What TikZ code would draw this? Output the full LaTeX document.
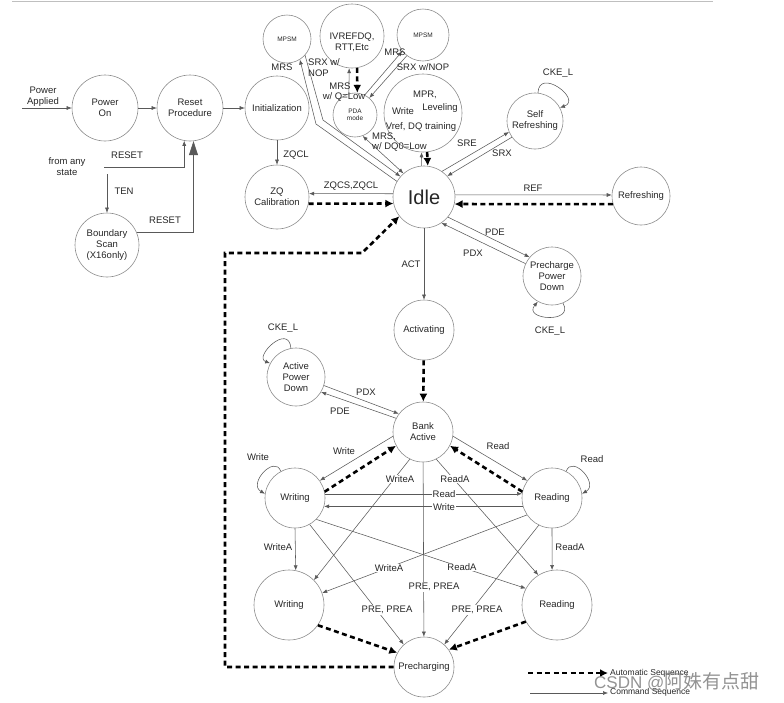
\documentclass[tikz,border=0pt]{standalone}
\usepackage{fontspec}
\setmainfont{Liberation Sans}
\newfontfamily\cjkfont{Noto Sans CJK SC}
\usetikzlibrary{arrows.meta}
\begin{document}
\begin{tikzpicture}[x=1pt,y=-1pt,
  every node/.style={font=\fontsize{9.5}{11}\selectfont, text=black!85, inner sep=0pt},
  stnode/.style={circle, draw=black!45, line width=0.6pt, align=center},
  cmd/.style={draw=black!65, line width=0.55pt, -{Latex[length=5pt,width=4pt]}},
  cmdb/.style={draw=black!65, line width=0.55pt, {Latex[length=5pt,width=4pt]}-{Latex[length=5pt,width=4pt]}},
  autoseq/.style={draw=black, line width=2.6pt, dash pattern=on 5pt off 3.5pt, -{Latex[length=8pt,width=8pt]}},
  lbl/.style={align=center},
  wlbl/.style={fill=white, inner sep=1pt},
  tinytxt/.style={font=\fontsize{6.5}{7.5}\selectfont},
]
\useasboundingbox (0,0) rectangle (784,702);
\draw[black!25, line width=1.2pt] (12,1.5) -- (713,1.5);

% ---------- states ----------
\node[stnode,minimum size=66pt] (pon) at (105,108) {Power\\On};
\node[stnode,minimum size=66pt] (rst) at (190,108) {Reset\\Procedure};
\node[stnode,minimum size=64pt] (init) at (277,108) {Initialization};
\node[stnode,minimum size=64pt] (zq) at (277,197) {ZQ\\Calibration};
\node[stnode,minimum size=64pt] (bs) at (107,245) {Boundary\\Scan\\(X16only)};
\node[stnode,minimum size=48pt,tinytxt] (mp1) at (287,39) {MPSM};
\node[stnode,minimum size=64pt] (ivr) at (352,36) {};
\node[lbl] (ivrt) at (352,42) {IVREFDQ,\\RTT,Etc};
\node[stnode,minimum size=52pt,tinytxt] (mp2) at (423,35) {MPSM};
\node[stnode,minimum size=44pt,tinytxt] (pda) at (355,115) {PDA\\mode};
\node[stnode,minimum size=78pt] (mpr) at (423,113) {};
\node (mprt1) at (425,95) {MPR,};
\node (mprt2) at (403,111) {Write};
\node (mprt3) at (440,108) {Leveling};
\node (mprt4) at (421,127) {Vref, DQ training};
\node[stnode,minimum size=56pt] (sr) at (535,121) {Self\\Refreshing};
\node[stnode,minimum size=62pt,font=\fontsize{20}{22}\selectfont] (idle) at (424,197) {Idle};
\node[stnode,minimum size=58pt] (rf) at (641,196) {Refreshing};
\node[stnode,minimum size=58pt] (ppd) at (552,276) {Precharge\\Power\\Down};
\node[stnode,minimum size=60pt] (act) at (424,330) {Activating};
\node[stnode,minimum size=58pt] (apd) at (296,377) {Active\\Power\\Down};
\node[stnode,minimum size=60pt] (ba) at (423,432) {Bank\\Active};
\node[stnode,minimum size=60pt] (wr1) at (295,498) {Writing};
\node[stnode,minimum size=60pt] (rd1) at (552,498) {Reading};
\node[stnode,minimum size=70pt] (wr2) at (289,605) {Writing};
\node[stnode,minimum size=70pt] (rd2) at (557,605) {Reading};
\node[stnode,minimum size=60pt] (pre) at (424,667) {Precharging};

% ---------- power-up / reset ----------
\coordinate (pa) at (22,108);
\draw[cmd] (pa) -- (pon);
\node[lbl] (pal) at (43,97) {Power\\Applied};
\draw[cmd] (pon) -- (rst);
\draw[cmd] (rst) -- (init);
\draw[cmd] (init) -- (zq);
\node (zqcl) at (296,155) {ZQCL};
\node[lbl] (fas) at (67,167) {from any\\state};
\coordinate (fa) at (104,167);
\draw[cmd] (fa) -| (rst.260);
\node (rs1) at (127,155) {RESET};
\coordinate (ten) at (107,174);
\draw[cmd] (ten) -- (bs);
\node (tenl) at (124,191) {TEN};
\draw[draw=black!65, line width=0.6pt, -{Triangle[length=14pt,width=9pt]}] (bs.23) -| (rst.276);
\node (rs2) at (165,220) {RESET};

% ---------- around Idle ----------
\draw[cmd] (idle.174) -- (zq.6);
\draw[autoseq] (zq.-12) -- (idle.192);
\node (zqcs) at (351,186) {ZQCS,ZQCL};

\draw[cmd] (idle.4) -- (rf.178);
\draw[autoseq] (rf.196) -- (idle.-13);
\node (refl) at (533,188) {REF};

\draw[cmd] (idle.55) -- (sr.203);
\draw[cmd] (sr.215) -- (idle.42);
\node (srel) at (467,143) {SRE};
\node (srxl) at (502,153) {SRX};
\draw[cmd] (sr.84) .. controls +(88:26pt) and +(20:24pt) .. (sr.28);
\node (ckesr) at (558,73) {CKE\_L};

\draw[cmd] (idle.-40) -- (ppd.140);
\draw[cmd] (ppd.155) -- (idle.-56);
\node (pdel) at (495,232) {PDE};
\node (pdxl) at (473,253) {PDX};
\draw[cmd] (ppd.-68) .. controls +(-60:24pt) and +(-130:24pt) .. (ppd.241);
\node (ckeppd) at (550,331) {CKE\_L};

\draw[cmd] (idle) -- (act);
\node (actl) at (411,264) {ACT};
\draw[autoseq] (act) -- (ba);

\coordinate (c1) at (225,667);
\coordinate (c2) at (225,253);
\coordinate (c3) at (362,253);
\draw[autoseq] (pre.west) -- (c1) -- (c2) -- (c3) -- (idle.218);

% ---------- top modes ----------
\coordinate (a1) at (316,124);
\coordinate (b1) at (323,120);
\draw[cmd] (idle.150) -- (a1) -- (mp1.-58);
\draw[cmd] (mp1.-42) -- (b1) -- (idle.139);
\node (mrs1) at (282,67) {MRS};
\node[anchor=west, align=left] (srx1) at (308,68) {SRX w/\\NOP};

\draw[cmdb] (pda.-70) -- (idle.131);
\node[anchor=west, align=left, font=\fontsize{9.5}{10}\selectfont] (mrsdq) at (372,142) {MRS,\\w/ DQ0=Low};

\draw[cmd] (pda.106) -- (ivr.265);
\draw[autoseq] (ivr.279) -- (pda.84);
\node (mrs2) at (340,86) {MRS};
\node (qlow) at (344,97) {w/ Q=Low};

\draw[cmd] (pda.64) -- (mp2.218);
\draw[cmd] (mp2.232) -- (pda.50);
\node (mrs3) at (395,52) {MRS};
\node (srx2) at (423,67) {SRX w/NOP};

\draw[cmd] (idle.95) -- (mpr.-92);
\draw[autoseq] (mpr.-84) -- (idle.83);

% ---------- bank active area ----------
\draw[cmd] (apd.-17) -- (ba.143);
\draw[cmd] (ba.153) -- (apd.-31);
\node (pdx2) at (366,392) {PDX};
\node (pde2) at (340,411) {PDE};
\draw[cmd] (apd.100) .. controls +(95:26pt) and +(160:18pt) .. (apd.152);
\node (ckeapd) at (283,328) {CKE\_L};

\draw[cmd] (ba.188) -- (wr1.35);
\draw[autoseq] (wr1.12) -- (ba.207);
\node (wrl) at (344,451) {Write};
\draw[cmd] (ba.-8) -- (rd1.145);
\draw[autoseq] (rd1.168) -- (ba.-27);
\node (rdl) at (498,446) {Read};

\draw[cmd] (wr1.118) .. controls +(110:18pt) and +(150:20pt) .. (wr1.172);
\node (wrloop) at (258,457) {Write};
\draw[cmd] (rd1.62) .. controls +(70:18pt) and +(30:20pt) .. (rd1.8);
\node (rdloop) at (592,459) {Read};

\draw[cmd] (wr1.8) -- (rd1.172);
\draw[cmd] (rd1.196) -- (wr1.-16);
\node[wlbl] (wrrd) at (444,494) {Read};
\node[wlbl] (rdwr) at (444,507) {Write};

\draw[cmd] (wr1.-90) -- (wr2.79);
\node (wa1) at (278,547) {WriteA};
\draw[cmd] (rd1.-90) -- (rd2.98);
\node (ra1) at (570,547) {ReadA};

\draw[cmd] (ba.244) -- (wr2.45);
\node[wlbl] (wa2) at (400,479) {WriteA};
\draw[cmd] (ba.-64) -- (rd2.122);
\node[wlbl] (ra2) at (455,479) {ReadA};

\draw[cmd] (ba) -- (pre);
\node[wlbl] (pp1) at (434,587) {PRE, PREA};

\draw[cmd] (wr1.-45) -- (rd2.152);
\node[wlbl] (ra3) at (462,567) {ReadA};
\draw[cmd] (rd1.214) -- (wr2.20);
\node[wlbl] (wa3) at (389,568) {WriteA};

\draw[cmd] (wr1.-61) -- (pre.132);
\node[wlbl] (pp2) at (387,610) {PRE, PREA};
\draw[cmd] (rd1.244) -- (pre.48);
\node[wlbl] (pp3) at (477,610) {PRE, PREA};

\draw[autoseq] (wr2.-35) -- (pre.152);
\draw[autoseq] (rd2.208) -- (pre.35);

% ---------- legend ----------
\coordinate (l1a) at (528,673);
\coordinate (l1b) at (608,673);
\draw[autoseq] (l1a) -- (l1b);
\node[anchor=west, font=\fontsize{8.5}{9}\selectfont] (leg1) at (610,673) {Automatic Sequence};
\coordinate (l2a) at (530,693);
\coordinate (l2b) at (608,693);
\draw[cmd] (l2a) -- (l2b);
\node[anchor=west, font=\fontsize{8.5}{9}\selectfont] (leg2) at (610,692) {Command Sequence};

\node[anchor=west, text=black!50, opacity=0.85] (wm) at (594,682) {\fontsize{17}{17}\selectfont CSDN @\cjkfont\fontsize{19}{19}\selectfont 阿姝有点甜};
\end{tikzpicture}
\end{document}
